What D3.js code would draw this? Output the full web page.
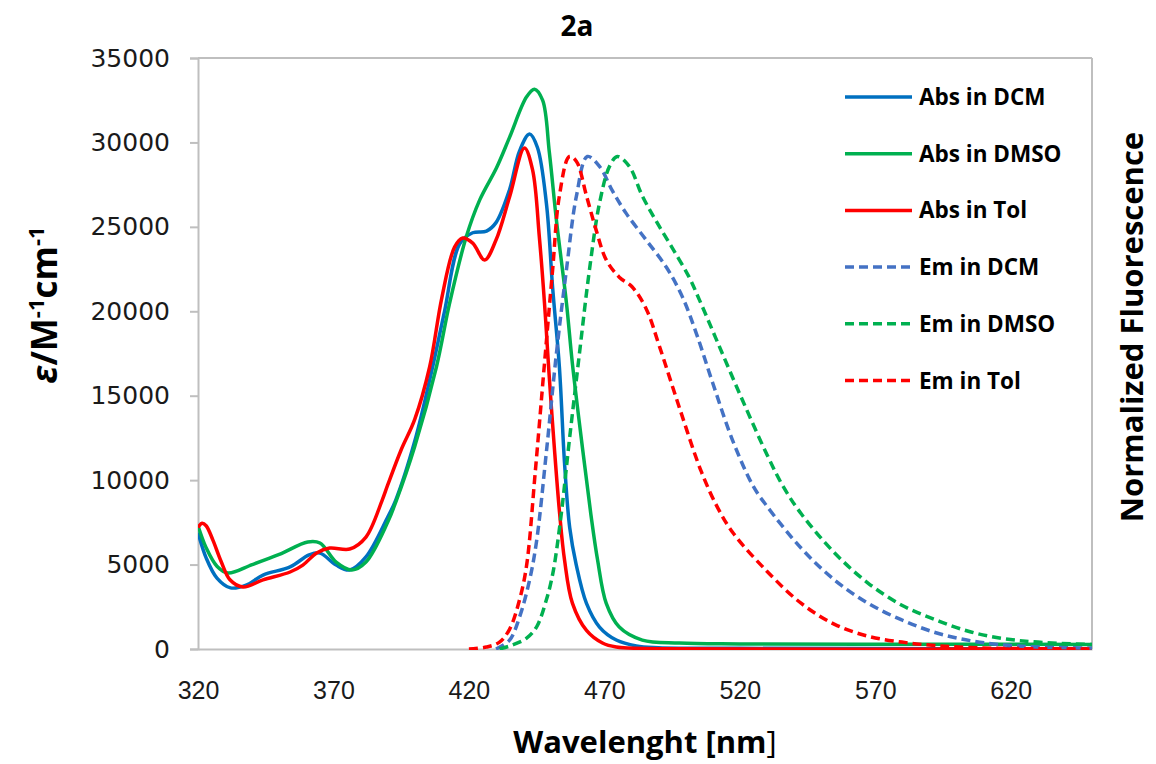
<!DOCTYPE html>
<html>
<head>
<meta charset="utf-8">
<script src="https://cdn.jsdelivr.net/npm/d3@7"></script>
<style>
  body { margin: 0; background: #fff; }
  svg { display: block; }
</style>
</head>
<body>
<svg width="1156" height="764"></svg>
<script>
// tick values
var xTicks = [320, 370, 420, 470, 520, 570, 620];
var yTicks = [0, 5000, 10000, 15000, 20000, 25000, 30000, 35000];

// absorption (epsilon, M-1 cm-1)
var absDcmNm  = [320, 323, 327, 332, 338, 344, 354, 361, 365, 371, 376, 382, 390, 393, 400, 406.6, 411, 416.6, 421.4, 426.5, 430, 435, 438.7, 442.4, 445.3, 448.6, 450.9, 453.4, 455.3, 457.2, 459.6, 463.4, 468.2, 474.4, 481.8, 490, 520, 600, 650];
var absDcmEps = [6900, 5400, 4200, 3620, 3800, 4380, 4860, 5570, 5680, 4970, 4680, 5450, 7800, 8820, 12300, 16700, 20000, 24000, 24650, 24750, 25250, 27200, 29500, 30500, 29700, 26400, 21400, 16700, 11000, 7200, 5000, 2700, 1300, 530, 180, 80, 40, 20, 20];

var absDmsoNm  = [320, 323, 327, 331, 340, 350, 360.5, 365, 371, 376.8, 382, 390, 393, 400, 408, 412.9, 419, 424, 430.2, 435, 441.3, 444.2, 447.2, 449.7, 452.3, 456, 458.2, 462, 465, 467.5, 470.7, 475.5, 484, 497.7, 520, 600, 650];
var absDmsoEps = [7300, 6000, 4900, 4500, 5000, 5600, 6340, 6280, 5150, 4680, 5150, 7500, 8700, 12000, 16700, 20500, 24400, 26600, 28500, 30300, 32700, 33150, 32500, 29400, 25400, 20500, 16900, 11800, 8000, 5270, 2700, 1300, 530, 350, 300, 280, 270];

var absTolNm  = [320, 321.5, 323, 325.5, 328.5, 331.8, 336.6, 344, 354, 358.7, 363.8, 368.6, 376, 382, 388, 390, 395, 400, 405.5, 410, 414.7, 417.7, 421.4, 425.8, 430, 435, 440.5, 443.5, 446, 447.9, 449.5, 451.5, 453.5, 455.3, 458.2, 463.4, 469.3, 474.4, 490, 650];
var absTolEps = [7200, 7450, 7300, 6450, 5200, 4100, 3670, 4090, 4560, 4970, 5690, 5980, 5920, 6630, 8820, 9700, 11800, 13600, 16700, 20800, 23800, 24340, 24040, 23040, 24220, 26770, 29670, 28370, 24400, 20490, 16500, 12000, 8000, 5270, 2720, 1100, 355, 118, 20, 0];

// emission (normalized)
var emDcmNm  = [430, 435, 438.7, 442.4, 445, 448.6, 452.3, 456, 459.7, 463.7, 468.2, 473, 478, 485.5, 492.9, 498.8, 504, 510, 517.6, 525, 530, 542.6, 555, 567.3, 579.8, 592.4, 605, 617.5, 630, 650];
var emDcmVal = [0, 0.018, 0.065, 0.14, 0.22, 0.40, 0.60, 0.77, 0.92, 1.0, 0.98, 0.93, 0.885, 0.83, 0.775, 0.715, 0.64, 0.54, 0.42, 0.33, 0.29, 0.205, 0.14, 0.093, 0.059, 0.033, 0.017, 0.008, 0.004, 0.002];

var emDmsoNm  = [431.3, 436, 441.3, 445, 448.6, 451, 454, 457, 460.8, 464.5, 468.2, 471.9, 474.8, 479.2, 484, 489, 495, 501.3, 505, 512, 521, 530, 536, 542.6, 555, 567.3, 579.8, 592.4, 605, 617.5, 630, 650];
var emDmsoVal = [0, 0.008, 0.022, 0.045, 0.10, 0.154, 0.27, 0.42, 0.60, 0.77, 0.905, 0.98, 1.0, 0.98, 0.92, 0.87, 0.815, 0.755, 0.71, 0.62, 0.505, 0.395, 0.33, 0.275, 0.195, 0.134, 0.089, 0.059, 0.035, 0.021, 0.014, 0.009];

var emTolNm  = [420, 426.5, 431.3, 435, 438.7, 441.3, 444.5, 447.9, 450.9, 453.4, 457.1, 459.7, 463.4, 467, 470.7, 475.5, 480.3, 485.5, 490.3, 497.7, 505.8, 512, 517.6, 530, 542.6, 555, 567.3, 579.8, 592, 605, 620, 650];
var emTolVal = [0, 0.004, 0.014, 0.04, 0.10, 0.17, 0.36, 0.58, 0.77, 0.92, 1.0, 0.99, 0.92, 0.85, 0.79, 0.755, 0.735, 0.69, 0.615, 0.49, 0.36, 0.285, 0.235, 0.158, 0.093, 0.05, 0.026, 0.014, 0.007, 0.003, 0.001, 0];

var seriesNames = ["Abs in DCM", "Abs in DMSO", "Abs in Tol", "Em in DCM", "Em in DMSO", "Em in Tol"];
var seriesColors = ["#0070C0", "#00B050", "#FF0000", "#4472C4", "#00B050", "#FF0000"];

var margin = {top: 58, right: 64, bottom: 115, left: 198};
var width = 1156 - margin.left - margin.right;
var height = 764 - margin.top - margin.bottom;

var svg = d3.select('svg');
var g = svg.append('g')
  .attr('transform', 'translate(' + margin.left + ',' + margin.top + ')');

//Escalas
var xScale = d3.scaleLinear().domain([320, 650]).range([0, width]);
var yScale = d3.scaleLinear().domain([0, 35000]).range([height, 0]);
var yFluo = d3.scaleLinear().domain([0, 1.2]).range([height, 0]);

function zip(a, b) { return a.map(function(v, i) { return {x: v, y: b[i]}; }); }

var series = [
  {pts: zip(absDcmNm, absDcmEps), y: yScale, dash: null},
  {pts: zip(absDmsoNm, absDmsoEps), y: yScale, dash: null},
  {pts: zip(absTolNm, absTolEps), y: yScale, dash: null},
  {pts: zip(emDcmNm, emDcmVal), y: yFluo, dash: "9,5"},
  {pts: zip(emDmsoNm, emDmsoVal), y: yFluo, dash: "9,5"},
  {pts: zip(emTolNm, emTolVal), y: yFluo, dash: "9,5"}
];

// plot frame
g.append('line').attr('x1', 0).attr('x2', width).attr('y1', 0).attr('y2', 0)
  .attr('stroke', '#BFBFBF').attr('stroke-width', 2);
g.append('line').attr('x1', width).attr('x2', width).attr('y1', 0).attr('y2', height)
  .attr('stroke', '#BFBFBF').attr('stroke-width', 2);

//eixos
var yAxisGroup = g.append('g').attr('class', 'yAxis');
yAxisGroup.call(d3.axisLeft(yScale).tickValues(yTicks).tickSize(8).tickPadding(20).tickFormat(d3.format('d')));

var xAxisGroup = g.append('g').attr('class', 'xAxis')
  .attr('transform', 'translate(0,' + height + ')');
xAxisGroup.call(d3.axisBottom(xScale).tickValues(xTicks).tickSize(0).tickPadding(32).tickFormat(d3.format('d')));

svg.selectAll('.domain, .tick line').attr('stroke', '#BFBFBF').attr('stroke-width', 2);
yAxisGroup.selectAll('text').attr('font-family', 'DejaVu Sans').attr('font-size', 25).attr('fill', '#1a1a1a');
xAxisGroup.selectAll('text').attr('font-family', 'Liberation Sans').attr('font-size', 25).attr('fill', '#1a1a1a');

// curves
g.append('clipPath').attr('id', 'plotclip')
  .append('rect').attr('x', 0).attr('y', -2).attr('width', width).attr('height', height + 3);

series.forEach(function(s, i) {
  var line = d3.line()
    .x(function(d) { return xScale(d.x); })
    .y(function(d) { return s.y(d.y); })
    .curve(d3.curveCatmullRom.alpha(0.5));
  g.append('path')
    .datum(s.pts)
    .attr('clip-path', 'url(#plotclip)')
    .attr('d', line)
    .attr('fill', 'none')
    .attr('stroke', seriesColors[i])
    .attr('stroke-width', 3.5)
    .attr('stroke-dasharray', s.dash);
});

// legenda
var legend = svg.append('g').attr('transform', 'translate(845,97)');
seriesNames.forEach(function(name, i) {
  var row = legend.append('g').attr('transform', 'translate(0,' + (i * 56.7) + ')');
  row.append('line').attr('x1', 0).attr('x2', 67).attr('y1', 0).attr('y2', 0)
    .attr('stroke', seriesColors[i]).attr('stroke-width', 3.5)
    .attr('stroke-dasharray', i > 2 ? "9,5" : null);
  row.append('text').attr('x', 74).attr('y', 8).text(name)
    .attr('font-family', 'Open Sans').attr('font-weight', 'bold').attr('font-size', 22.5).attr('fill', '#000');
});

// titulos
svg.append('text').attr('x', 577).attr('y', 36).attr('text-anchor', 'middle')
  .attr('font-family', 'Open Sans').attr('font-weight', 'bold').attr('font-size', 28).text('2a');

var xt = svg.append('text').attr('x', 645).attr('y', 753).attr('text-anchor', 'middle')
  .attr('font-family', 'Open Sans').attr('font-weight', 'bold').attr('font-size', 31);
xt.append('tspan').text('Wavelenght [nm');
xt.append('tspan').attr('font-weight', 'normal').text(']');

var yt = svg.append('text').attr('transform', 'translate(57,305) rotate(-90)').attr('text-anchor', 'middle')
  .attr('font-family', 'Open Sans').attr('font-weight', 'bold').attr('font-size', 35);
yt.append('tspan').attr('font-style', 'italic').text('ε');
yt.append('tspan').text('/M');
yt.append('tspan').attr('font-size', 22).attr('dy', -13).text('-1');
yt.append('tspan').attr('dy', 13).text('cm');
yt.append('tspan').attr('font-size', 22).attr('dy', -13).text('-1');

svg.append('text').attr('transform', 'translate(1143,327) rotate(-90)').attr('text-anchor', 'middle')
  .attr('font-family', 'Open Sans').attr('font-weight', 'bold').attr('font-size', 31).text('Normalized Fluorescence');
</script>
</body>
</html>
